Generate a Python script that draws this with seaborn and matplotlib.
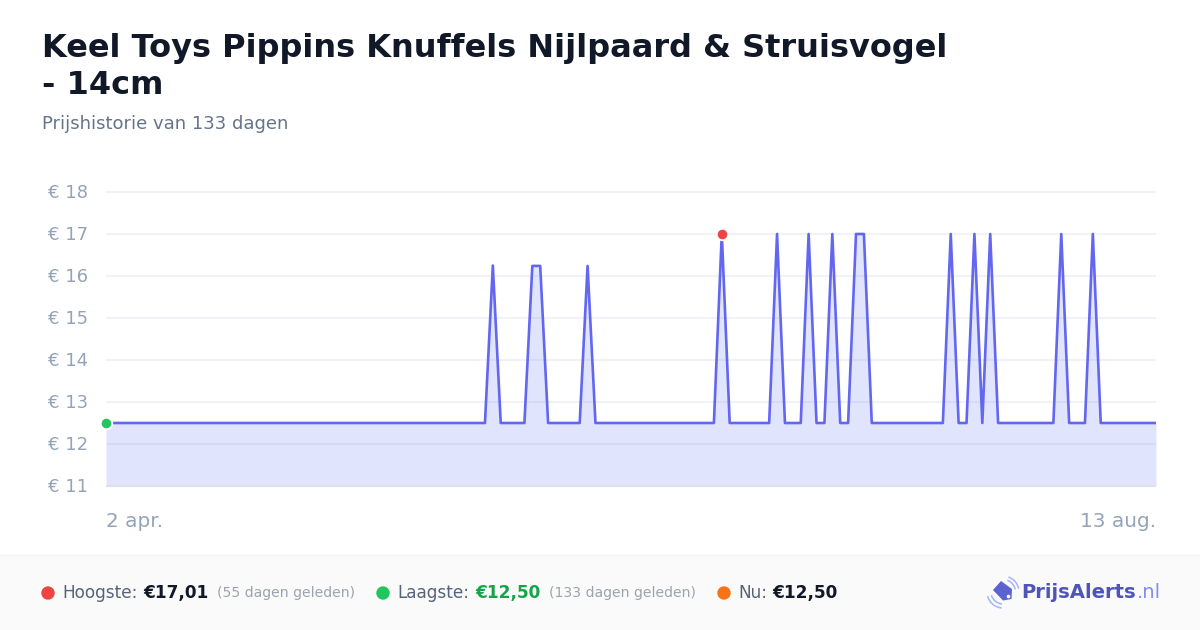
import pandas as pd
import seaborn as sns
import matplotlib
matplotlib.use("Agg")
import matplotlib.pyplot as plt
from matplotlib.patches import Arc, Circle, Polygon, Rectangle
from matplotlib.transforms import ScaledTranslation

# one price per day, 2 apr. to 13 aug.
prices = [
    12.50, 12.50, 12.50, 12.50, 12.50, 12.50, 12.50, 12.50, 12.50, 12.50,
    12.50, 12.50, 12.50, 12.50, 12.50, 12.50, 12.50, 12.50, 12.50, 12.50,
    12.50, 12.50, 12.50, 12.50, 12.50, 12.50, 12.50, 12.50, 12.50, 12.50,
    12.50, 12.50, 12.50, 12.50, 12.50, 12.50, 12.50, 12.50, 12.50, 12.50,
    12.50, 12.50, 12.50, 12.50, 12.50, 12.50, 12.50, 12.50, 12.50, 16.25,
    12.50, 12.50, 12.50, 12.50, 16.24, 16.24, 12.50, 12.50, 12.50, 12.50,
    12.50, 16.24, 12.50, 12.50, 12.50, 12.50, 12.50, 12.50, 12.50, 12.50,
    12.50, 12.50, 12.50, 12.50, 12.50, 12.50, 12.50, 12.50, 17.01, 12.50,
    12.50, 12.50, 12.50, 12.50, 12.50, 17.00, 12.50, 12.50, 12.50, 17.00,
    12.50, 12.50, 17.00, 12.50, 12.50, 17.00, 17.00, 12.50, 12.50, 12.50,
    12.50, 12.50, 12.50, 12.50, 12.50, 12.50, 12.50, 17.00, 12.50, 12.50,
    17.00, 12.50, 17.00, 12.50, 12.50, 12.50, 12.50, 12.50, 12.50, 12.50,
    12.50, 17.00, 12.50, 12.50, 12.50, 17.00, 12.50, 12.50, 12.50, 12.50,
    12.50, 12.50, 12.50, 12.50,
]
start_date = "2025-04-02"
y_ticks = [11, 12, 13, 14, 15, 16, 17, 18]
x_labels = ["2 apr.", "13 aug."]

title_lines = ["Keel Toys Pippins Knuffels Nijlpaard & Struisvogel", "- 14cm"]
subtitle = "Prijshistorie van 133 dagen"

LINE = "#6366f1"
TICK = "#94a3b8"
W, H = 1200, 630

df = pd.DataFrame({"date": pd.date_range(start_date, periods=len(prices)), "price": prices})

sns.set_theme(style="white")
plt.rcParams["font.family"] = ["DejaVu Sans"]

fig = plt.figure(figsize=(12, 6.3), dpi=100, facecolor="white")

# overlay in pixel coordinates for the header, footer and logo
bg = fig.add_axes([0, 0, 1, 1], zorder=0)
bg.set_xlim(0, W)
bg.set_ylim(H, 0)
bg.axis("off")

ax = fig.add_axes([106 / W, 1 - 486 / H, 1050 / W, 294 / H], zorder=1)
ax.patch.set_alpha(0)

sns.lineplot(data=df, x="date", y="price", ax=ax, color=LINE, linewidth=1.9, zorder=3)
ax.fill_between(df["date"], df["price"], 11, color="#7e93f7", alpha=0.24, linewidth=0, zorder=2)

high = df.loc[df["price"].idxmax()]
low = df.iloc[[0]]
sns.scatterplot(x=[high["date"]], y=[high["price"]], ax=ax, color="#ef4444", s=68,
                edgecolor="white", linewidth=1.3, zorder=5, clip_on=False)
sns.scatterplot(x=low["date"], y=low["price"], ax=ax, color="#22c55e", s=68,
                edgecolor="white", linewidth=1.3, zorder=5, clip_on=False)

ax.set_xlim(df["date"].iloc[0], df["date"].iloc[-1])
ax.set_ylim(11, 18)
ax.set_xlabel("")
ax.set_ylabel("")
sns.despine(ax=ax, left=True, bottom=True, top=True, right=True)

ax.set_yticks(y_ticks)
ax.set_yticklabels([f"€ {v}" for v in y_ticks], fontsize=13, color=TICK)
ax.grid(axis="y", color="#f1f2f5", linewidth=1.5)
ax.set_axisbelow(True)
for gl in ax.get_ygridlines():
    gl.set_clip_on(False)
    gl.set_solid_capstyle("butt")
ax.axhline(11, color="#dfe1ea", linewidth=1.5, zorder=4, clip_on=False, solid_capstyle="butt")
ax.tick_params(axis="y", length=0, pad=13)
# labels sit a little above the gridlines
lift = ScaledTranslation(0, 1.5 / 100, fig.dpi_scale_trans)
for lab in ax.get_yticklabels():
    lab.set_transform(lab.get_transform() + lift)

ax.set_xticks([df["date"].iloc[0], df["date"].iloc[-1]])
ax.set_xticklabels(x_labels, fontsize=14.4, color=TICK)
ax.get_xticklabels()[0].set_ha("left")
ax.get_xticklabels()[1].set_ha("right")
ax.tick_params(axis="x", length=0, pad=19)

# header
bg.text(42, 49, title_lines[0], fontsize=23, fontweight="bold", color="#111827", va="center")
bg.text(42, 86, title_lines[1], fontsize=23, fontweight="bold", color="#111827", va="center")
bg.text(42, 124, subtitle, fontsize=13, color="#64748b", va="center")

# footer
bg.add_patch(Rectangle((0, 555), W, 75, facecolor="#fafafa", edgecolor="none"))
bg.plot([0, W], [555, 555], color="#f3f4f6", linewidth=1)

label_c = "#566378"
small_c = "#9ca3af"
fy = 593
bg.add_patch(Circle((48, fy), 6, color="#ef4444"))
bg.text(62, fy, "Hoogste:", fontsize=12.2, color=label_c, va="center")
bg.text(143, fy, "€17,01", fontsize=12.2, fontweight="bold", color="#111827", va="center")
bg.text(217, fy, "(55 dagen geleden)", fontsize=10.1, color=small_c, va="center")
bg.add_patch(Circle((383, fy), 6, color="#22c55e"))
bg.text(397, fy, "Laagste:", fontsize=12.2, color=label_c, va="center")
bg.text(475, fy, "€12,50", fontsize=12.2, fontweight="bold", color="#16a34a", va="center")
bg.text(549, fy, "(133 dagen geleden)", fontsize=10.1, color=small_c, va="center")
bg.add_patch(Circle((724, fy), 6, color="#f97316"))
bg.text(738, fy, "Nu:", fontsize=12.2, color=label_c, va="center")
bg.text(772, fy, "€12,50", fontsize=12.2, fontweight="bold", color="#111827", va="center")

# logo
bg.add_patch(Polygon([(993, 590), (1001, 581), (1012, 589), (1011.5, 599), (1003, 600.5)],
                     closed=True, facecolor="#5b63d3", edgecolor="none"))
bg.add_patch(Circle((1008.5, 596.5), 1.1, color="white"))
for d, a1, a2 in [(32, 290, 348), (25, 290, 348), (32, 95, 165), (24, 95, 165)]:
    bg.add_patch(Arc((1003, 592), d, d, theta1=a1, theta2=a2, color="#a5b4fc", linewidth=1.1))
bg.text(1021, 593, "PrijsAlerts", fontsize=14.15, fontweight="bold", color="#4f55b8", va="center")
bg.text(1137, 593, ".nl", fontsize=14.15, color="#818cf8", va="center")

fig.savefig("out.png", dpi=100)
plt.close(fig)
